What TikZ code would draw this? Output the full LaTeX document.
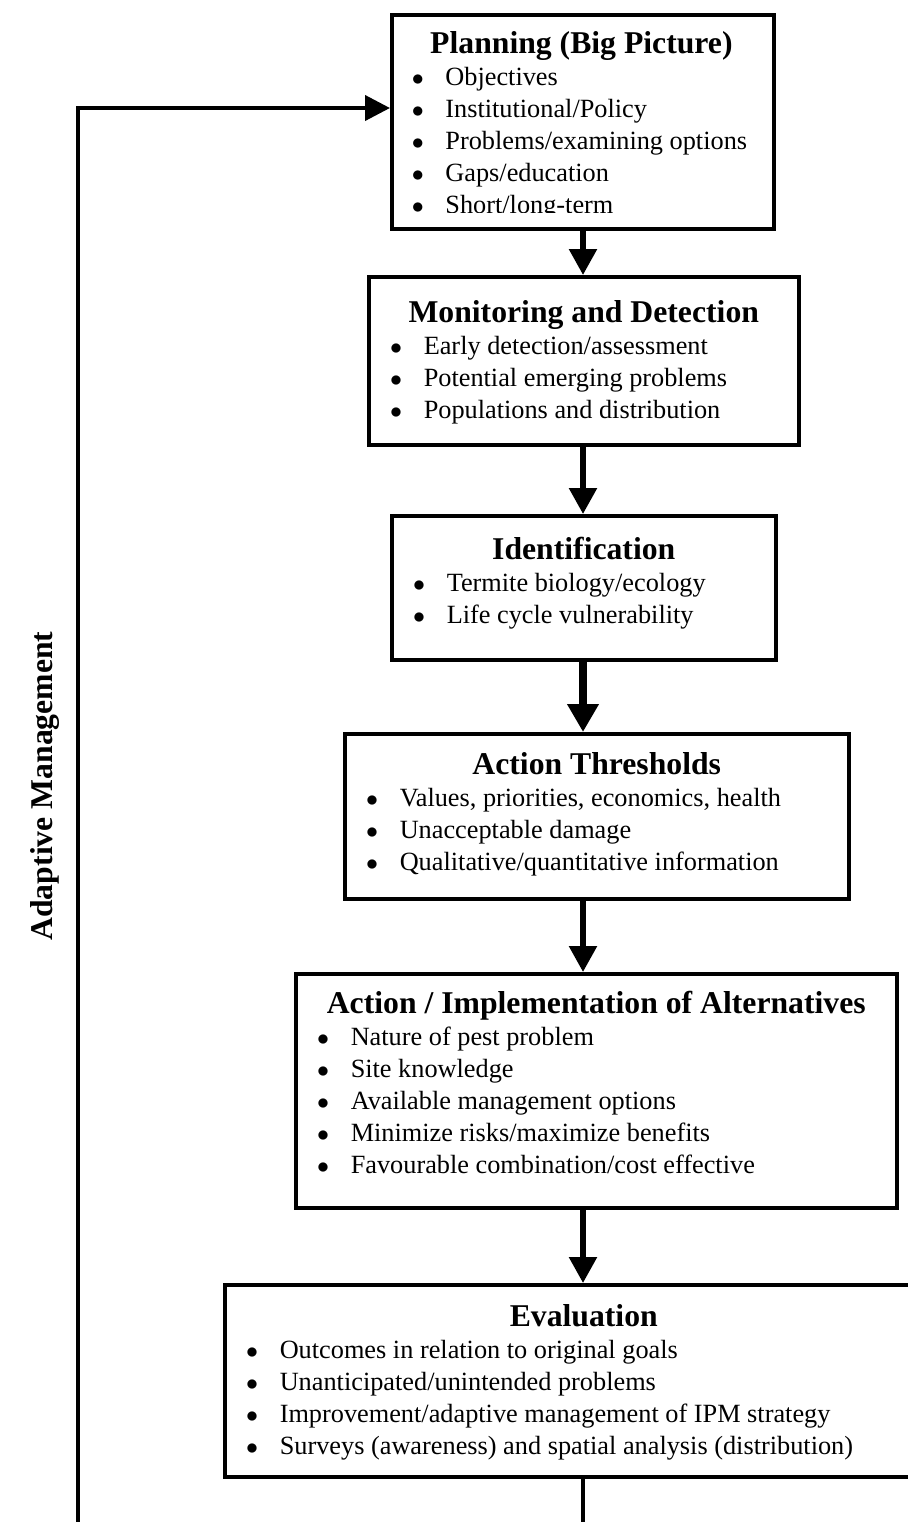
\documentclass[tikz,border=0pt]{standalone}
\usepackage{fontspec}
\setmainfont{Liberation Serif}
\usetikzlibrary{arrows.meta}

\newcommand{\headfont}{\fontsize{15.85pt}{16pt}\selectfont\bfseries}
\newcommand{\bodyfont}{\fontsize{13.15pt}{16pt}\selectfont}
\newcommand{\stagehead}[2]{\bodyfont\rule{0pt}{#1}\makebox[\linewidth]{\headfont #2}}
\newcommand{\stageitem}[1]{\par\hspace*{10.7pt}\makebox[16.8pt][l]{$\bullet$}#1}

\begin{document}
\begin{tikzpicture}[x=0.5pt, y=-0.5pt,
    stage/.style={draw, line width=1.75pt, inner sep=0pt, anchor=north west},
    flow/.style={line width=2.75pt, -{Triangle[length=13pt, width=13.5pt]}},
    heavyflow/.style={line width=4pt, -{Triangle[length=14pt, width=15pt]}},
    feedback/.style={line width=2pt, -{Triangle[length=12.5pt, width=12.5pt]}}]
    \useasboundingbox (0,0) rectangle (908,1522);
    \coordinate (spine) at (583,0);

    % planning box, last line cut off by the frame
    \node[stage, minimum width=191pt, minimum height=107pt] (plan) at (390,13) {};
    \begin{scope}
        \clip (plan.north west) rectangle ([yshift=9pt]plan.south east);
        \node[anchor=north west, inner sep=0pt] (plantext) at (plan.north west) {\parbox[t]{191pt}{\stagehead{20pt}{Planning (Big Picture)}
            \stageitem{Objectives}
            \stageitem{Institutional/Policy}
            \stageitem{Problems/examining options}
            \stageitem{Gaps/education}
            \stageitem{Short/long-term}}};
    \end{scope}

    \node[stage] (mon) at (367,275) {\parbox[t][84pt][t]{215pt}{\stagehead{23pt}{Monitoring and Detection}
        \stageitem{Early detection/assessment}
        \stageitem{Potential emerging problems}
        \stageitem{Populations and distribution}}};
    \node[stage] (ident) at (390,514) {\parbox[t][72pt][t]{192pt}{\stagehead{22pt}{Identification}
        \stageitem{Termite biology/ecology}
        \stageitem{Life cycle vulnerability}}};
    \node[stage] (thr) at (343,732) {\parbox[t][82.5pt][t]{252pt}{\stagehead{20.5pt}{Action Thresholds}
        \stageitem{Values, priorities, economics, health}
        \stageitem{Unacceptable damage}
        \stageitem{Qualitative/quantitative information}}};
    \node[stage] (impl) at (294,972) {\parbox[t][117pt][t]{300.5pt}{\stagehead{20pt}{Action / Implementation of Alternatives}
        \stageitem{Nature of pest problem}
        \stageitem{Site knowledge}
        \stageitem{Available management options}
        \stageitem{Minimize risks/maximize benefits}
        \stageitem{Favourable combination/cost effective}}};
    \node[stage] (eval) at (223,1283) {\parbox[t][96pt][t]{359pt}{\stagehead{21pt}{Evaluation}
        \stageitem{Outcomes in relation to original goals}
        \stageitem{Unanticipated/unintended problems}
        \stageitem{Improvement/adaptive management of IPM strategy}
        \stageitem{Surveys (awareness) and spatial analysis (distribution)}}};

    \draw[flow] (plan.south -| spine) -- (mon.north -| spine);
    \draw[flow] (mon.south -| spine) -- (ident.north -| spine);
    \draw[heavyflow] (ident.south -| spine) -- (thr.north -| spine);
    \draw[flow] (thr.south -| spine) -- (impl.north -| spine);
    \draw[flow] (impl.south -| spine) -- (eval.north -| spine);

    % loop back to planning
    \coordinate (evalfoot) at (583,1522);
    \coordinate (amfoot) at (78,1522);
    \coordinate (amtop) at (78,108);
    \draw[line width=2.25pt] (eval.south -| spine) -- (evalfoot);
    \draw[feedback] (amfoot) -- (amtop) -- (amtop -| plan.west);
    \node[rotate=90, anchor=base, font=\headfont] (am) at (53,786) {Adaptive Management};
\end{tikzpicture}
\end{document}
